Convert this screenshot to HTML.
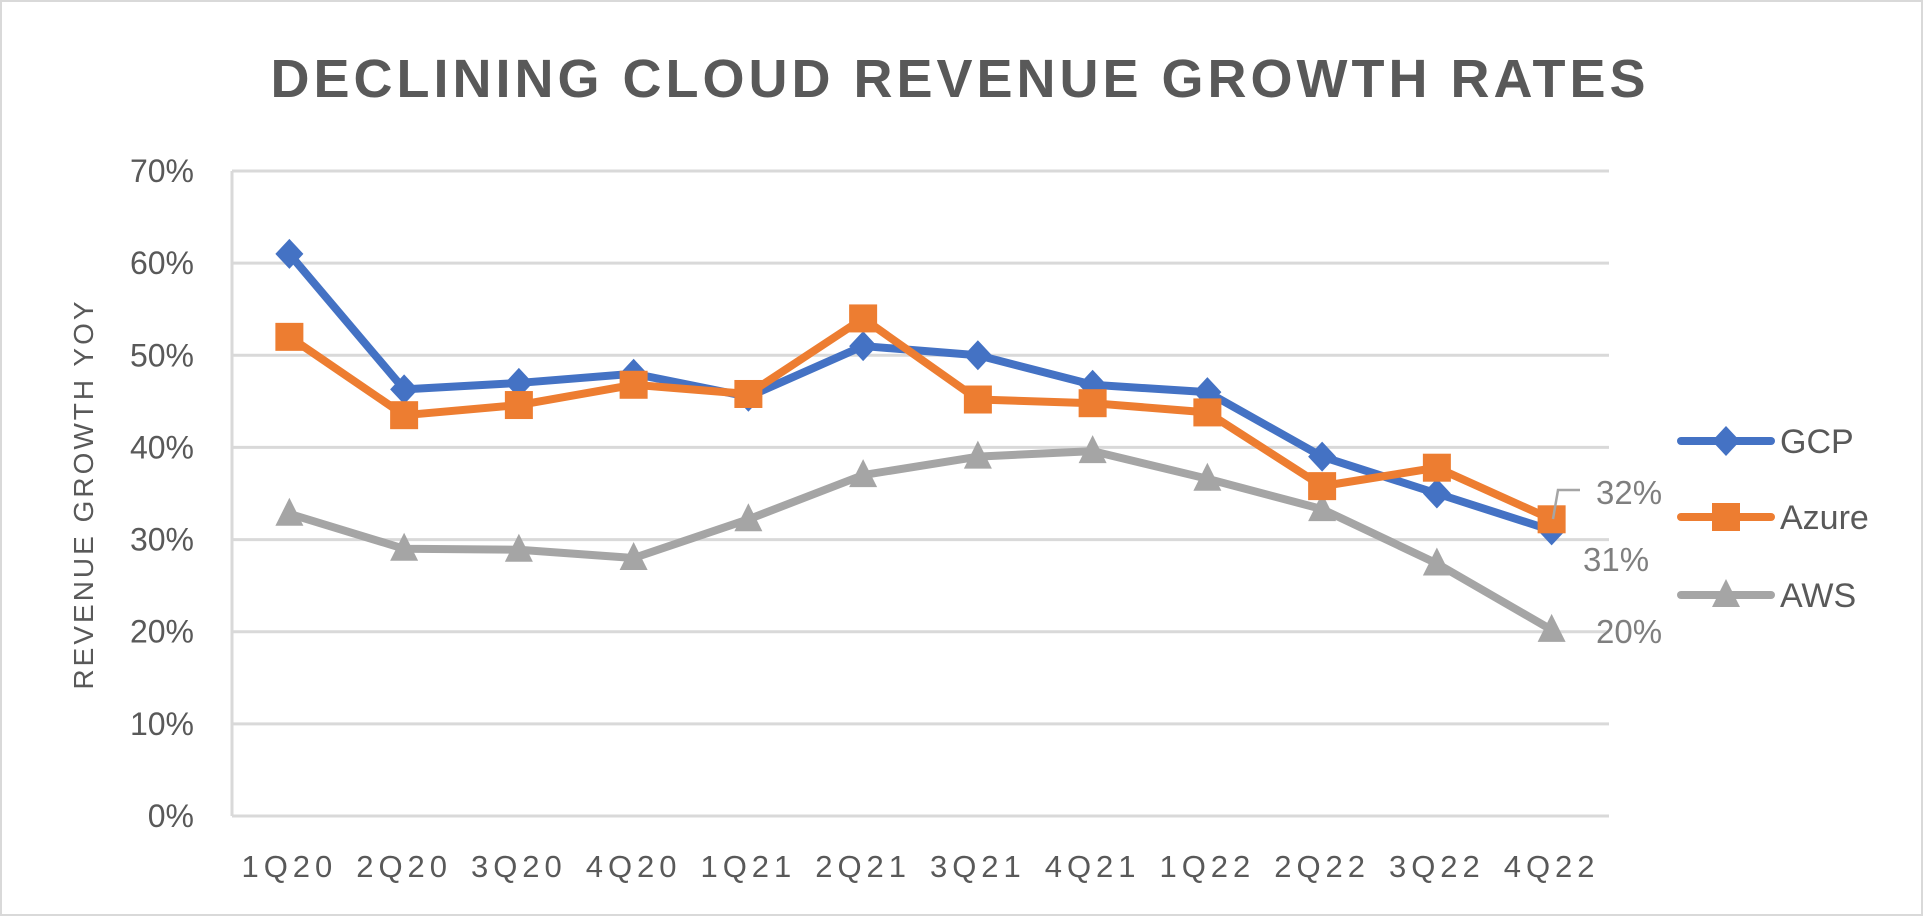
<!DOCTYPE html>
<html><head><meta charset="utf-8"><style>
html,body{margin:0;padding:0;background:#fff;}
svg{display:block;font-family:"Liberation Sans",sans-serif;}
</style></head><body>
<svg id="chart" width="1924" height="917" viewBox="0 0 1924 917">
<rect x="1" y="1" width="1921" height="914" fill="#fff" stroke="#d9d9d9" stroke-width="2"/>
<text x="960" y="97" text-anchor="middle" font-size="54" font-weight="bold" fill="#595959" letter-spacing="4">DECLINING CLOUD REVENUE GROWTH RATES</text>
<text transform="translate(93,494) rotate(-90)" text-anchor="middle" font-size="28" fill="#595959" letter-spacing="3">REVENUE GROWTH YOY</text>
<g id="grid"></g><g id="series"></g><g id="labels"></g>
</svg>
<script>
const categories=["1Q20","2Q20","3Q20","4Q20","1Q21","2Q21","3Q21","4Q21","1Q22","2Q22","3Q22","4Q22"];
const gcp=[61,46.3,47,48,45.5,51,50,46.8,46,39,35,31];
const azure=[52,43.5,44.6,46.8,45.8,54,45.2,44.8,43.8,35.8,37.8,32.2];
const aws=[32.8,29,28.9,28,32.2,37,39,39.6,36.6,33.3,27.4,20.2];
const yTicks=[0,10,20,30,40,50,60,70];
const NS="http://www.w3.org/2000/svg";
const L=232,R=1609,T=171,B=816,YMAX=70;
const bw=(R-L)/categories.length;
const xS=i=>L+bw*(i+0.5);
const yS=v=>B-(v/YMAX)*(B-T);
function mk(tag,at,parent){const e=document.createElementNS(NS,tag);for(const k in at)e.setAttribute(k,at[k]);parent.appendChild(e);return e;}
const grid=document.getElementById('grid'),ser=document.getElementById('series'),lab=document.getElementById('labels');
yTicks.forEach(t=>{
  const ln=mk('line',{x1:L,x2:R,y1:yS(t),y2:yS(t),stroke:'#d9d9d9','stroke-width':3},grid);
  
  
  const tx=mk('text',{x:194,y:yS(t)+11,'text-anchor':'end','font-size':32,fill:'#595959'},grid);
  tx.textContent=t+'%';
  
  
});
const ax=mk('line',{x1:L,x2:L,y1:T,y2:B,stroke:'#d9d9d9','stroke-width':3},grid);


categories.forEach((c,i)=>{
  const tx=mk('text',{x:xS(i),y:877,'text-anchor':'middle','font-size':31,fill:'#595959','letter-spacing':5},grid);
  tx.textContent=c;
  
  
});
function marker(type,x,y,col,g){
  let e;
  if(type==='d')e=mk('polygon',{points:`${x},${y-15} ${x+14},${y} ${x},${y+15} ${x-14},${y}`,fill:col},g);
  else if(type==='s')e=mk('rect',{x:x-14,y:y-14,width:28,height:28,fill:col},g);
  else e=mk('polygon',{points:`${x},${y-16} ${x+14},${y+12} ${x-14},${y+12}`,fill:col},g);
  return e;
}
function draw(data,col,type,name){
  const g=mk('g',{},ser);
  
  
  const pl=mk('polyline',{points:data.map((v,i)=>xS(i)+','+yS(v)).join(' '),fill:'none',stroke:col,'stroke-width':8,'stroke-linejoin':'round'},g);
  
  
  data.forEach((v,i)=>{
    const m=marker(type,xS(i),yS(v),col,g);
    
    
  });
}
draw(aws,'#a5a5a5','t','aws');
draw(gcp,'#4472c4','d','gcp');
draw(azure,'#ed7d31','s','azure');
const leg=[['GCP','#4472c4','d',441],['Azure','#ed7d31','s',517],['AWS','#a5a5a5','t',595]];
leg.forEach(([n,c,t,y])=>{
  const g=mk('g',{},lab);
  
  
  mk('line',{x1:1681,x2:1771,y1:y,y2:y,stroke:c,'stroke-width':8,'stroke-linecap':'round'},g);
  marker(t,1726,y,c,g);
  const tx=mk('text',{x:1780,y:y+12,'font-size':34,fill:'#595959'},g);
  tx.textContent=n;
});
const last=categories.length-1;
const ends=[[azure[last],1596,504,'azure'],[gcp[last],1583,571,'gcp'],[aws[last],1596,643,'aws']];
ends.forEach(([v,x,y,n])=>{
  const tx=mk('text',{x:x,y:y,'font-size':33,fill:'#7f7f7f'},lab);
  tx.textContent=Math.round(v)+'%';
  
  
});
const ld=mk('polyline',{points:'1553,519 1558,490 1580,490',fill:'none',stroke:'#a5a5a5','stroke-width':2.5},lab);


</script>
</body></html>
